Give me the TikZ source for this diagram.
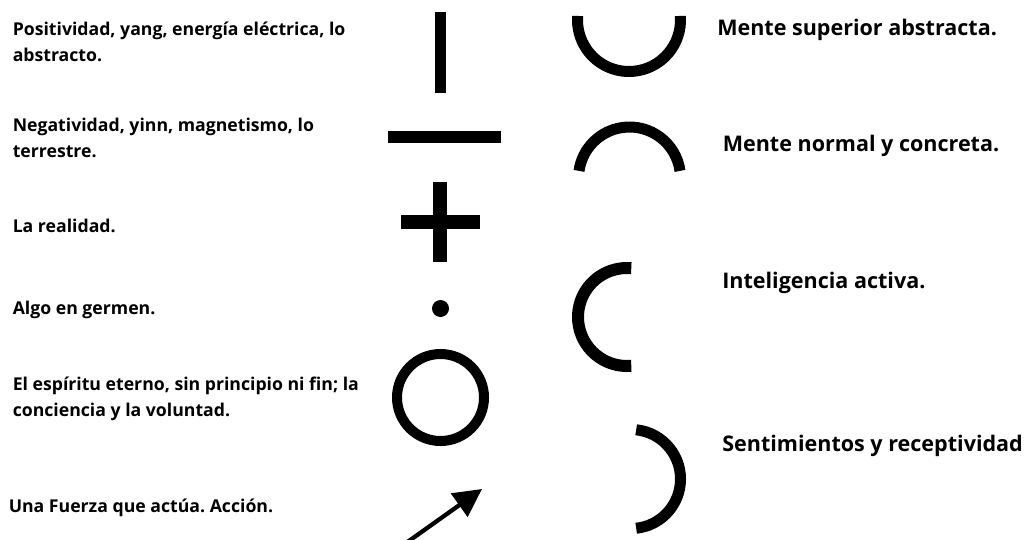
\documentclass[tikz,border=0pt]{standalone}
\usepackage{fontspec}
\setmainfont{Open Sans}
\frenchspacing
\usetikzlibrary{arrows.meta}
\newcommand{\twolines}[2]{\vtop{\hbox{#1}\hbox{#2}}}
\begin{document}
\begin{tikzpicture}[x=0.75pt,y=-0.75pt,
  lefttext/.style={anchor=base west,inner sep=0pt,font=\fontsize{13.25pt}{19.5pt}\selectfont\bfseries},
  righttext/.style={anchor=base west,inner sep=0pt,font=\fontsize{16.15pt}{18pt}\selectfont\bfseries},
  symbar/.style={fill=black,draw=none},
  symarc/.style={draw=black,line width=8.25pt,line cap=butt}]
\useasboundingbox (0,0) rectangle (1027,539);
\clip (0,0) rectangle (1027,539);
% left texts
\node[lefttext] (t1) at (12.5,36) {\twolines{Positividad, yang, energía eléctrica, lo}{abstracto.}};
\node[lefttext] (t2) at (12.5,131) {\twolines{Negatividad, yinn, magnetismo, lo}{terrestre.}};
\node[lefttext] (t3) at (12.5,232) {La realidad.};
\node[lefttext] (t4) at (12.5,314) {Algo en germen.};
\node[lefttext] (t5) at (12.5,390.5) {\twolines{El espíritu eterno, sin principio ni fin; la}{conciencia y la voluntad.}};
\node[lefttext] (t6) at (8.5,512) {Una Fuerza que actúa. Acción.};
% right texts
\node[righttext] (r1) at (717,36) {Mente superior abstracta.};
\node[righttext] (r2) at (722.5,151) {Mente normal y concreta.};
\node[righttext] (r3) at (722,288) {Inteligencia activa.};
\node[righttext] (r4) at (722,451) {Sentimientos y receptividad};
% middle symbols
\fill[symbar] (435,12) rectangle (446,93);
\fill[symbar] (388,131) rectangle (501,143);
\fill[symbar] (433,182) rectangle (447,262);
\fill[symbar] (401,215) rectangle (480,229);
\fill[symbar] (440.5,308.5) circle[radius=8.5];
\draw[draw=black,line width=7.5pt] (440.5,397.5) circle[radius=43.5];
\coordinate (as) at (399,548);
\coordinate (ae) at (482,489);
\draw[line width=3.2pt,-{Triangle[length=21pt,width=21pt]}] (as) -- (ae);
% arcs
\draw[symarc] ([shift={(-4.5:51.5)}]629,20) arc[start angle=-4.5,end angle=184.5,radius=51.5];
\draw[symarc] ([shift={(-8:51)}]629.5,178) arc[start angle=-8,end angle=-172,radius=51];
\draw[symarc,line width=9pt] ([shift={(85:49)}]627,317) arc[start angle=85,end angle=275,radius=49];
\draw[symarc] ([shift={(-84:49.5)}]631,479) arc[start angle=-84,end angle=84,radius=49.5];
\end{tikzpicture}
\end{document}
